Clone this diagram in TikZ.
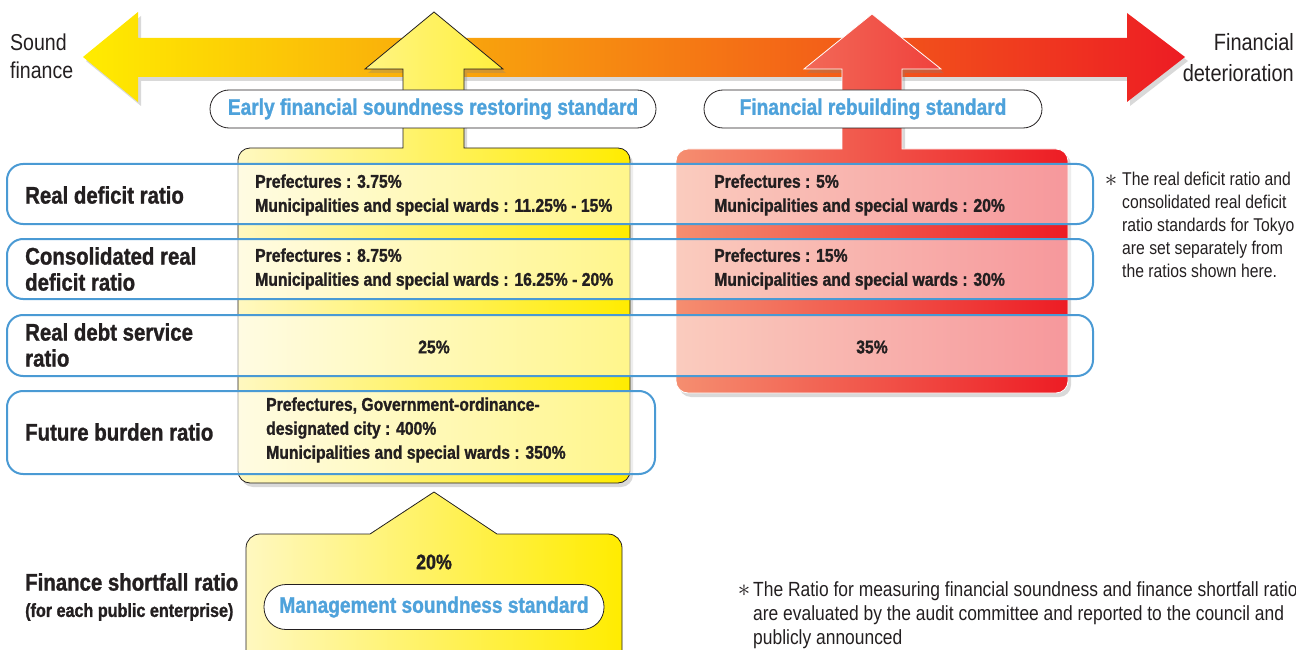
\documentclass[tikz,border=0pt]{standalone}
\usepackage{fontspec}
\setmainfont{Liberation Sans}[FakeStretch=0.85,BoldFeatures={FakeBold=1.2}]
\usetikzlibrary{arrows.meta,positioning,calc,shadows}
\definecolor{skyline}{HTML}{4A9AD4}
\definecolor{lbl}{HTML}{4EA2DB}
\definecolor{ink}{HTML}{231F20}
\definecolor{yel}{HTML}{FFEC00}
\definecolor{yelpale}{HTML}{FFF8C0}
\definecolor{org}{HTML}{F7941D}
\definecolor{rd}{HTML}{ED1C24}
\definecolor{salmon}{HTML}{F58E70}

\begin{document}
\begin{tikzpicture}[x=1pt,y=-1pt,>=Latex,
  row/.style={draw=skyline,line width=2pt,rounded corners=16pt,fill=white,fill opacity=.55,anchor=north west,inner sep=0pt},
  tag/.style={draw=ink,line width=.8pt,fill=white,rounded corners=19pt,minimum height=38pt,text=lbl,font=\fontsize{22.5}{24}\selectfont\bfseries},
  hd/.style={text=ink,font=\fontsize{24}{26}\selectfont\bfseries,align=left,anchor=west,inner sep=0pt},
  val/.style={text=ink,font=\fontsize{18.5}{24}\selectfont\bfseries,align=left,inner sep=0pt},
  note/.style={text=ink,font=\fontsize{18.5}{23}\selectfont,align=left,inner sep=0pt},
  star/.style={text=ink,font=\fontsize{30}{30}\selectfont,inner sep=0pt},
  shade/.style={drop shadow={shadow xshift=3pt,shadow yshift=-4pt,opacity=.3}}]
 \useasboundingbox (0,0) rectangle (1296,650);
 % scale from sound to deterioration
 \shade[left color=yel,middle color=org,right color=rd]
  (83,57)--(138,12)--(138,38)--(1127,38)--(1127,13)--(1185,57)--(1127,102)--(1127,77)--(138,77)--(138,102)--cycle;
 \node[note,font=\fontsize{23}{28}\selectfont,anchor=west] (sound) at (10,56) {Sound\\finance};
 \node[note,font=\fontsize{23.5}{31}\selectfont,anchor=east,align=right] (worse) at (1294,58) {Financial\\deterioration};
 % early restoring stage
 \path[shade,draw=ink,line width=.8pt,left color=yelpale,right color=yel]
  (434,12)--(503,69)--(464,69)--(464,148)[rounded corners=12pt]--(630,148)--(630,483)--(238,483)--(238,148)[sharp corners]--(403,148)--(403,69)--(365,69)--cycle;
 % rebuilding stage
 \path[shade,draw=white,line width=.8pt,left color=salmon,right color=rd]
  (872,14)--(941,69)--(902,69)--(902,149)[rounded corners=12pt]--(1068,149)--(1068,393)--(676,393)--(676,149)[sharp corners]--(842,149)--(842,69)--(804,69)--cycle;
 \node[tag,minimum width=446pt] (early) at (433,109) {Early financial soundness restoring standard};
 \node[tag,minimum width=338pt] (rebuild) at (873,109) {Financial rebuilding standard};
 % ratio rows
 \node[row,minimum width=1086pt,minimum height=60pt] (r1) at (6,163) {};
 \node[row,minimum width=1086pt,minimum height=60pt] (r2) at (6,238) {};
 \node[row,minimum width=1086pt,minimum height=61pt] (r3) at (6,314) {};
 \node[row,minimum width=648pt,minimum height=83pt] (r4) at (6,390) {};
 \node[hd] (h1) at (25,195) {Real deficit ratio};
 \node[hd] (h2) at (25,269) {Consolidated real\\deficit ratio};
 \node[hd] (h3) at (25,345) {Real debt service\\ratio};
 \node[hd] (h4) at (25,432) {Future burden ratio};
 \node[val,anchor=west] (e1) at (255,195) {Prefectures : 3.75\%\\Municipalities and special wards : 11.25\% - 15\%};
 \node[val,anchor=west] (e2) at (255,269) {Prefectures : 8.75\%\\Municipalities and special wards : 16.25\% - 20\%};
 \node[val] (e3) at (434,347) {25\%};
 \node[val,anchor=west] (e4) at (266,430) {Prefectures, Government-ordinance-\\designated city : 400\%\\Municipalities and special wards : 350\%};
 \node[val,anchor=west] (b1) at (714,195) {Prefectures : 5\%\\Municipalities and special wards : 20\%};
 \node[val,anchor=west] (b2) at (714,269) {Prefectures : 15\%\\Municipalities and special wards : 30\%};
 \node[val] (b3) at (872,347) {35\%};
 \node[star] (star1) at (1111,181) {$\ast$};
 \node[note,anchor=north west] (tokyo) at (1122,172) {The real deficit ratio and\\consolidated real deficit\\ratio standards for Tokyo\\are set separately from\\the ratios shown here.};
 % management soundness
 \path[draw=ink,line width=.8pt,left color=yelpale,right color=yel]
  (370,534)--(434,492)--(497,534)[rounded corners=14pt]--(622,534)--(622,680)--(246,680)--(246,534)[sharp corners]--cycle;
 \node[val,font=\fontsize{21}{24}\selectfont\bfseries] (m1) at (434,562) {20\%};
 \node[tag,minimum width=340pt,minimum height=45pt,rounded corners=22pt] (manage) at (434,607) {Management soundness standard};
 \node[hd] (h5) at (25,582) {Finance shortfall ratio};
 \node[hd,font=\fontsize{19}{20}\selectfont\bfseries] (h6) at (25,612) {(for each public enterprise)};
 \node[star] (star2) at (744,591) {$\ast$};
 \node[note,anchor=north west,font=\fontsize{20.5}{24}\selectfont] (audit) at (753,581) {The Ratio for measuring financial soundness and finance shortfall ratio\\are evaluated by the audit committee and reported to the council and\\publicly announced};
\end{tikzpicture}
\end{document}
